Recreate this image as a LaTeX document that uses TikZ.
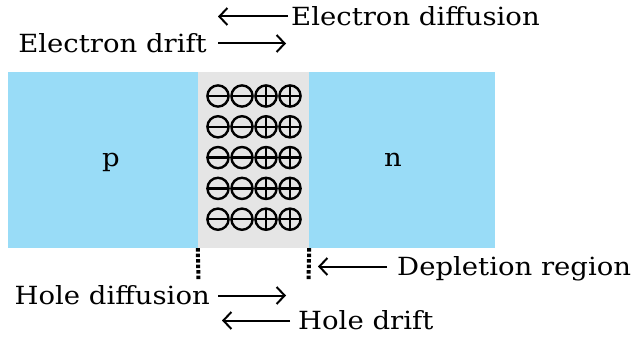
\documentclass[tikz,border=0pt]{standalone}
\usepackage{fontspec}
\setmainfont[FakeStretch=1.1]{DejaVu Serif}
\usetikzlibrary{arrows.meta}

\begin{document}
\begin{tikzpicture}[x=1pt, y=-1pt,
		% Styles
		region/.style={fill=regioncolor, minimum height=176pt, inner sep=0pt},
		label text/.style={font=\fontsize{25}{27}\selectfont, inner sep=0pt, text depth=0pt},
		flow arrow/.style={line width=2pt, -{Straight Barb[length=8pt, width=17pt, line width=2pt]}},
		boundary/.style={line width=4pt, dash pattern=on 3.5pt off 2pt},
		charge/.style={line width=2.4pt}
		]
		
		% Colors
		\definecolor{regioncolor}{HTML}{99DCF7}
		\definecolor{depletioncolor}{HTML}{E5E5E5}
		
		\useasboundingbox (0,0) rectangle (635,347);
		
		% The junction
		\node[region, minimum width=190pt] (p region) at (103,160) {};
		\node[region, minimum width=186pt] (n region) at (402,160) {};
		\node[region, fill=depletioncolor, minimum width=111pt] (depletion) at (253.5,160) {};
		
		\node[label text] (p label) at (111,160) {p};
		\node[label text] (n label) at (393,160) {n};
		
		% Fixed charges
		\foreach \row in {0,...,4} {
			\foreach \x in {218, 242} {
				\draw[charge] (\x, 96+30.8*\row) circle [radius=10.6];
				\draw[charge] (\x-10.6, 96+30.8*\row) -- (\x+10.6, 96+30.8*\row);
			}
			\foreach \x in {266, 290} {
				\draw[charge] (\x, 96+30.8*\row) circle [radius=10.6];
				\draw[charge] (\x-10.6, 96+30.8*\row) -- (\x+10.6, 96+30.8*\row);
				\draw[charge] (\x, 85.4+30.8*\row) -- (\x, 106.6+30.8*\row);
			}
		}
		
		% Edges of the depletion region
		\coordinate (left edge) at (198.5,280);
		\coordinate (right edge) at (308.5,280);
		\draw[boundary] (depletion.south west) -- (left edge);
		\draw[boundary] (depletion.south east) -- (right edge);
		
		% Labels
		\node[label text, anchor=base west] (e diffusion) at (291,26) {Electron diffusion};
		\node[label text, anchor=base east] (e drift) at (207,53) {Electron drift};
		\node[label text, anchor=base west] (depletion label) at (397,276) {Depletion region};
		\node[label text, anchor=base east] (h diffusion) at (210,305) {Hole diffusion};
		\node[label text, anchor=base west] (h drift) at (298,330) {Hole drift};
		
		\coordinate (e diffusion tip) at (218,0);
		\coordinate (e drift tip) at (286,0);
		\coordinate (depletion tip) at (318,0);
		\coordinate (h diffusion tip) at (286,0);
		\coordinate (h drift tip) at (222,0);
		
		% Arrows
		\draw[flow arrow] ([xshift=-3pt]e diffusion.west) -- (e diffusion tip |- e diffusion.west);
		\draw[flow arrow] ([xshift=11pt]e drift.east) -- (e drift tip |- e drift.east);
		\draw[flow arrow] ([xshift=-10pt]depletion label.west) -- (depletion tip |- depletion label.west);
		\draw[flow arrow] ([xshift=8pt]h diffusion.east) -- (h diffusion tip |- h diffusion.east);
		\draw[flow arrow] ([xshift=-8pt]h drift.west) -- (h drift tip |- h drift.west);
		
	\end{tikzpicture}
\end{document}
